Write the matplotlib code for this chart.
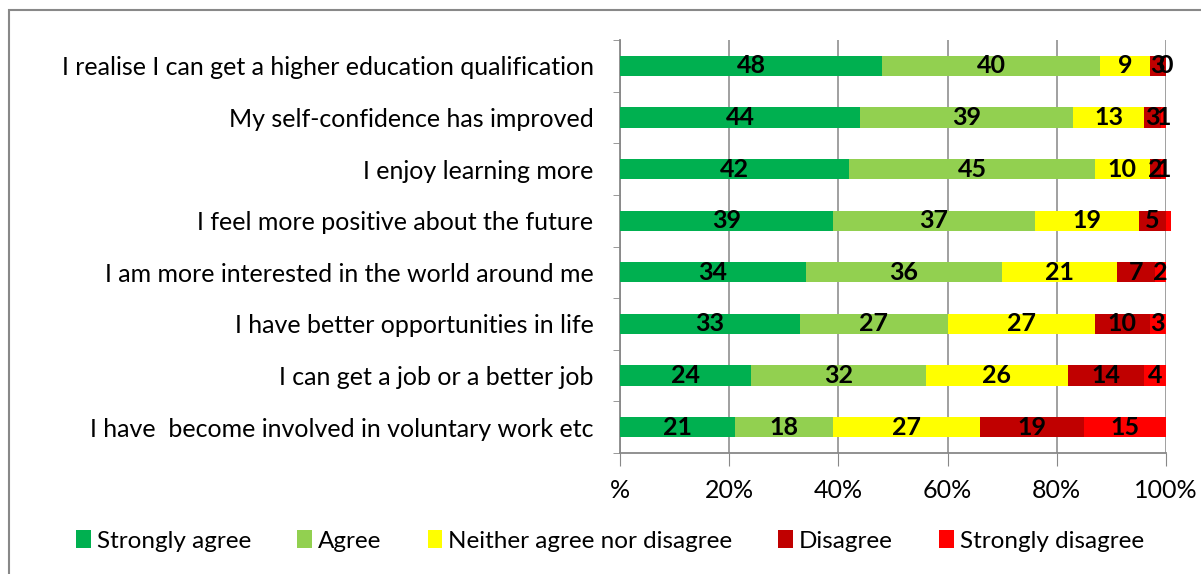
import matplotlib.pyplot as plt
import matplotlib.patches as mpatches
import numpy as np

plt.rcParams['font.family'] = ['Lato', 'DejaVu Sans']

# data (top row first)
statements = ['I realise I can get a higher education qualification',
              'My self-confidence has improved',
              'I enjoy learning more',
              'I feel more positive about the future',
              'I am more interested in the world around me',
              'I have better opportunities in life',
              'I can get a job or a better job',
              'I have  become involved in voluntary work etc']
series = ['Strongly agree', 'Agree', 'Neither agree nor disagree',
          'Disagree', 'Strongly disagree']
strongly_agree = [48, 44, 42, 39, 34, 33, 24, 21]
agree = [40, 39, 45, 37, 36, 27, 32, 18]
neither = [9, 13, 10, 19, 21, 27, 26, 27]
disagree = [3, 3, 2, 5, 7, 10, 14, 19]
strongly_disagree = [0, 1, 1, 1, 2, 3, 4, 15]
# label not shown in the original for the thin sliver in row 4
hidden = {(4, 3)}
tick_vals = [0, 20, 40, 60, 80, 100]
tick_labels = ['%', '20%', '40%', '60%', '80%', '100%']

colors = ['#00B050', '#92D050', '#FFFF00', '#C00000', '#FF0000']

fig = plt.figure(figsize=(12.01, 5.74), dpi=100)
ax = fig.add_axes([620/1201, 1-453/574, 546/1201, 413/574])

y = np.arange(len(statements))
left = np.zeros(len(statements))
all_vals = [strongly_agree, agree, neither, disagree, strongly_disagree]
for si, (vals, c, name) in enumerate(zip(all_vals, colors, series)):
    bars = ax.barh(y, vals, left=left, height=0.39, color=c, label=name,
                   zorder=3, clip_on=False)
    labs = ['' if (si, i) in hidden else str(v) for i, v in enumerate(vals)]
    ax.bar_label(bars, labels=labs, label_type='center', fontsize=18,
                 fontweight='bold', color='black', zorder=4)
    left = left + np.array(vals)

ax.set_ylim(len(statements) - 0.5, -0.5)
ax.set_xlim(0, 100)
ax.set_yticks(y)
ax.set_yticklabels(statements, fontsize=18)
ax.set_yticks(np.arange(-0.5, len(statements), 1), minor=True)
ax.tick_params(axis='y', which='major', length=0, pad=19)
ax.tick_params(axis='y', which='minor', length=5, color='#888888', direction='out')
ax.set_xticks(tick_vals)
ax.set_xticklabels(tick_labels, fontsize=18)
ax.tick_params(axis='x', length=9, color='#888888', pad=10)

ax.grid(axis='x', color='#999999', linewidth=1.3, zorder=0)
for s in ['top', 'right']:
    ax.spines[s].set_visible(False)
for s in ['left', 'bottom']:
    ax.spines[s].set_color('#888888')
    ax.spines[s].set_linewidth(1.3)

# outer chart border
fig.patches.append(mpatches.Rectangle((9/1201, -0.1), 1.2, 1.1 - 11/574 + 0.001,
                                      transform=fig.transFigure, fill=False,
                                      edgecolor='#888888', linewidth=1.5))

handles, labels = ax.get_legend_handles_labels()
fig.legend(handles, labels, loc='center', bbox_to_anchor=(0.508, 1-541/574),
           ncol=5, frameon=False, fontsize=17.5, handlelength=0.6,
           handleheight=0.7, handletextpad=0.25, columnspacing=1.9)

plt.savefig('out.png', dpi=100)
